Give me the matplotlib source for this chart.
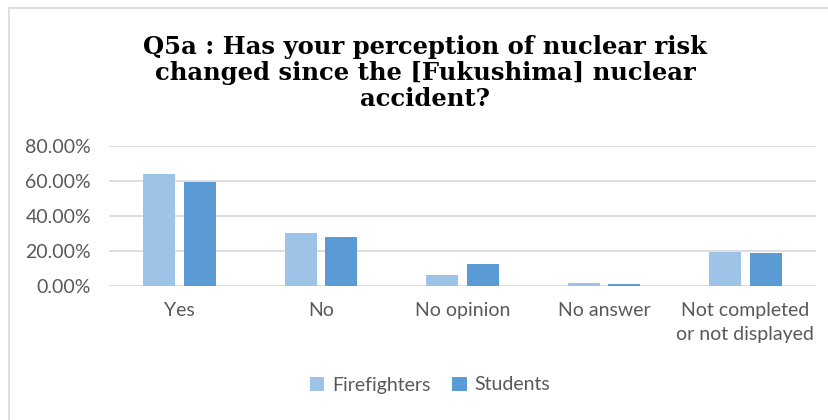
import numpy as np
import matplotlib.pyplot as plt
from matplotlib.patches import Rectangle

categories = ["Yes", "No", "No opinion", "No answer", "Not completed\nor not displayed"]
firefighters = [63.7, 30.1, 5.9, 1.5, 19.3]
students = [59.4, 27.8, 12.4, 1.0, 18.9]
yticks = [0, 20, 40, 60, 80]

W, H = 829, 420
fig = plt.figure(figsize=(W / 100, H / 100), dpi=100)
fig.patch.set_facecolor("white")

# chart border (cropped at right/bottom)
fig.patches.append(Rectangle((9 / W, -0.1), 1.2, 1 - 8 / H + 0.1, transform=fig.transFigure,
                             fill=False, edgecolor="#D9D9D9", linewidth=1.2))

ax = fig.add_axes([109 / W, 1 - 285.7 / H, (816 - 109) / W, 140 / H])
x = np.arange(len(categories))
w = 0.226
gap = 0.062
ax.bar(x - (w + gap) / 2, firefighters, w, color="#9DC3E6", label="Firefighters", zorder=3)
ax.bar(x + (w + gap) / 2, students, w, color="#5B9BD5", label="Students", zorder=3)

ax.set_xlim(-0.5, len(categories) - 0.5)
ax.set_ylim(0, 80)
ax.set_yticks(yticks)
ax.set_yticklabels([f"{v:.2f}%" for v in yticks])
ax.set_xticks(x)
ax.set_xticklabels(categories, linespacing=1.45)
ax.grid(axis="y", color="#D9D9D9", linewidth=1.2, zorder=0)
for s in ax.spines.values():
    s.set_visible(False)
ax.tick_params(axis="both", length=0, labelsize=14, labelcolor="#595959")
ax.tick_params(axis="y", pad=13)
ax.tick_params(axis="x", pad=12)
for lab in ax.get_xticklabels() + ax.get_yticklabels():
    lab.set_fontfamily("Lato")

fig.text(425 / W, 1 - 73 / H,
         "Q5a : Has your perception of nuclear risk\nchanged since the [Fukushima] nuclear\naccident?",
         ha="center", va="center", fontsize=17.5, fontweight="bold", family="DejaVu Serif",
         linespacing=1.12)

leg = fig.legend(loc="center", bbox_to_anchor=(430 / W, 1 - 385 / H), ncol=2, frameon=False,
                 handlelength=0.75, handleheight=0.75, columnspacing=1.1,
                 handletextpad=0.4, prop={"family": "Lato", "size": 14})
for t in leg.get_texts():
    t.set_color("#595959")

fig.savefig("out.png", dpi=100)
